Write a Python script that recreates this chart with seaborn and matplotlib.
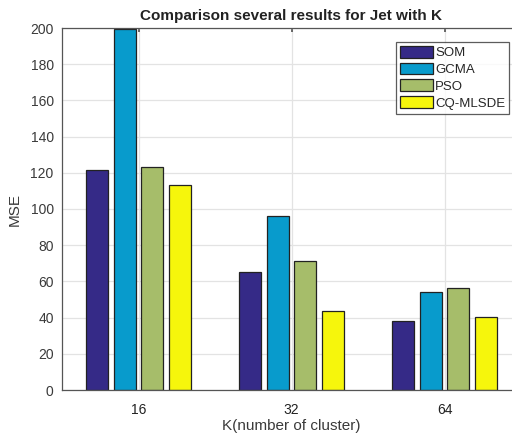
import matplotlib
matplotlib.use("Agg")
import matplotlib.pyplot as plt
import seaborn as sns
import pandas as pd

k_values = ["16", "32", "64"]
methods = ["SOM", "GCMA", "PSO", "CQ-MLSDE"]
som = [121.5, 65.0, 38.2]
gcma = [199.5, 96.0, 53.9]
pso = [123.0, 71.5, 56.3]
cq_mlsde = [113.5, 43.4, 40.6]
colors = ["#352a87", "#089bcc", "#a6bd6a", "#f6f60c"]

rows = []
for m, vals in zip(methods, [som, gcma, pso, cq_mlsde]):
    for k, v in zip(k_values, vals):
        rows.append({"K": k, "Method": m, "MSE": v})
df = pd.DataFrame(rows)

sns.set_theme(style="white")
plt.rcParams['font.family'] = ['Liberation Sans', 'DejaVu Sans']

fig = plt.figure(figsize=(5.12, 4.43), dpi=100)
ax = fig.add_axes([62/512, 1-390/443, (521-62)/512, (390-28)/443])

sns.barplot(data=df, x="K", y="MSE", hue="Method", order=k_values,
            hue_order=methods, palette=colors, width=0.72, gap=0.2,
            edgecolor="#222222", linewidth=0.9, saturation=1, ax=ax)

ax.set_xlim(-0.5, 2.5)
ax.set_ylim(0, 200)
ax.set_yticks(range(0, 201, 20))
ax.grid(True, color="#e3e3e3", linewidth=0.9)
ax.set_axisbelow(True)
for s in ax.spines.values():
    s.set_color("#555555")
    s.set_linewidth(0.9)
ax.tick_params(axis="both", direction="in", length=3, color="#555555")
ax.tick_params(axis="y", labelsize=10, labelcolor="#3a3a3a", pad=6)
ax.tick_params(axis="x", labelsize=10, labelcolor="#222222", pad=9, top=True)

ax.set_title("Comparison several results for Jet with K", fontsize=11,
             fontweight="bold", color="#222222", pad=6)
ax.set_xlabel("K(number of cluster)", fontsize=11, color="#3a3a3a", labelpad=2)
ax.set_ylabel("MSE", fontsize=11, color="#3a3a3a", labelpad=6)

leg = ax.legend(loc="upper left", bbox_to_anchor=((396-62)/459, 1-(42-28)/362),
                fontsize=9.5, frameon=True, fancybox=False, edgecolor="#333333",
                handlelength=2.5, handleheight=1.0, handletextpad=0.15,
                labelspacing=0.25, borderpad=0.3, borderaxespad=0)
leg.get_frame().set_linewidth(0.9)

fig.savefig("out.png", dpi=100, facecolor="white")
